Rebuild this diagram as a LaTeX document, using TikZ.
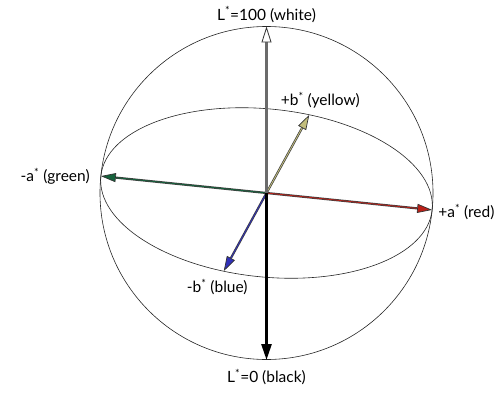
\documentclass[tikz,border=0pt]{standalone}
\usepackage{fontspec}
\setmainfont{Lato}
\usetikzlibrary{arrows.meta,positioning}
\tikzset{rim/.style={draw=black!85,line width=0.6pt},
 lbl/.style={font=\fontsize{15.5}{18}\selectfont,inner sep=1pt},
 ax/.style={line width=0.7pt,draw=black!75,double=#1,double distance=0.8pt,
  -{Triangle[length=15pt,width=9pt,color=black!80,fill=#1]}}}
\definecolor{tipyel}{HTML}{F4EE9C}
\definecolor{tipgrn}{HTML}{1E8C55}
\definecolor{tipred}{HTML}{E8281E}
\definecolor{tipblu}{HTML}{3C3CE6}

\begin{document}
\begin{tikzpicture}[x=1pt,y=1pt]
\useasboundingbox (0,0) rectangle (502,394);
\coordinate (o) at (266.5,201);
\coordinate (top) at (266.5,367.5);
\coordinate (bot) at (266.5,34);
\draw[rim] (o) circle [radius=166.5pt];
\begin{scope}[shift={(o)},rotate=-5.83]
\draw[rim] (0,0) ellipse [x radius=166.5pt,y radius=84pt];
\coordinate (grn) at (180:166.5pt and 84pt);
\coordinate (red) at (0:166.5pt and 84pt);
\coordinate (yel) at (78:166.5pt and 84pt);
\coordinate (blu) at (258:166.5pt and 84pt);
\end{scope}
\draw[ax=tipgrn!70!black] (o)--(grn);
\draw[ax=tipred!80!black] (o)--(red);
\draw[ax=tipyel!80!black] (o)--(yel);
\draw[ax=tipblu!80!black] (o)--(blu);
\draw[line width=3.2pt,black!58,
 -{Triangle[length=16pt,width=10pt,color=black!80,fill=white,line width=0.8pt]}] (o)--(top);
\draw[line width=2.6pt,black,-{Triangle[length=16pt,width=10pt]}] (o)--(bot);
\node[lbl,above=3pt of top] (lwhite) {L\textsuperscript{*}=100 (white)};
\node[lbl,below=8pt of bot] (lblack) {L\textsuperscript{*}=0 (black)};
\node[lbl,left=10pt of grn] (lgreen) {-a\textsuperscript{*} (green)};
\node[lbl,right=5pt of red,yshift=-2pt] (lred) {+a\textsuperscript{*} (red)};
\node[lbl,above=5pt of yel,xshift=11pt] (lyellow) {+b\textsuperscript{*} (yellow)};
\node[lbl,below=7pt of blu,xshift=-6.5pt] (lblue) {-b\textsuperscript{*} (blue)};
\end{tikzpicture}
\end{document}
